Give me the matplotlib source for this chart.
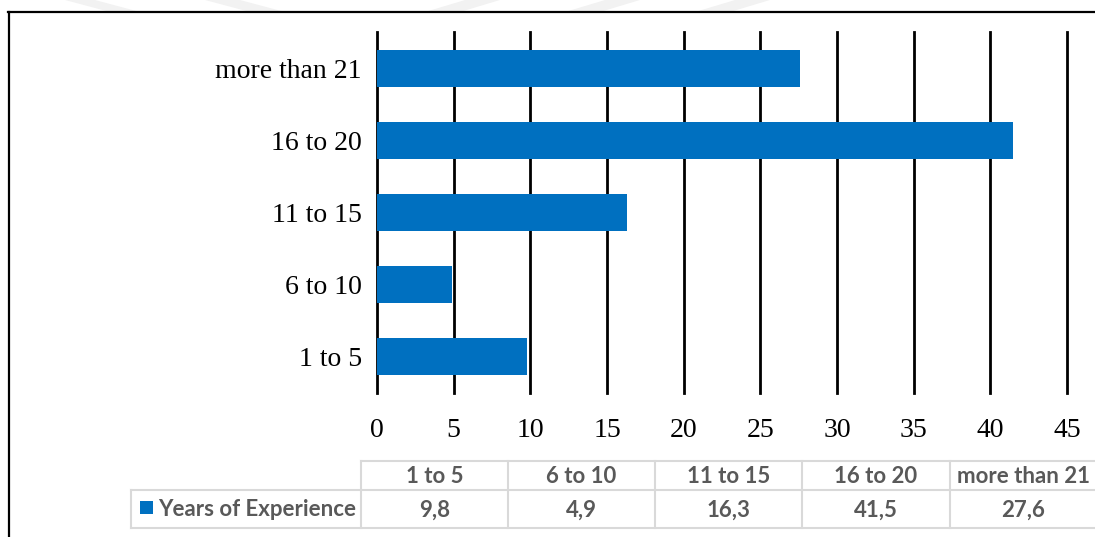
import matplotlib
matplotlib.use("Agg")
import matplotlib.pyplot as plt
from matplotlib.patches import Polygon, Rectangle
from matplotlib.lines import Line2D

categories = ["1 to 5", "6 to 10", "11 to 15", "16 to 20", "more than 21"]
values = [9.8, 4.9, 16.3, 41.5, 27.6]
value_labels = ["9,8", "4,9", "16,3", "41,5", "27,6"]
series_name = "Years of Experience"
xticks = [0, 5, 10, 15, 20, 25, 30, 35, 40, 45]

W, H = 1095, 537
fig = plt.figure(figsize=(W / 100, H / 100), dpi=100)

def fx(px):
    return px / W

def fy(py):
    return 1 - py / H

BLUE = "#0070C0"
GRAY_TXT = "#595959"
GRID_LINE = "#D9D9D9"

# faint watermark shapes at the top
wm = [
    [(65, 0), (95, 0), (140, 12), (110, 12)],
    [(205, 0), (240, 0), (285, 12), (250, 12)],
    [(465, 0), (500, 0), (460, 12), (425, 12)],
    [(605, 0), (640, 0), (600, 12), (565, 12)],
    [(735, 0), (770, 0), (730, 12), (695, 12)],
]
for poly in wm:
    fig.patches.append(Polygon([(fx(x), fy(y)) for x, y in poly], closed=True,
                               transform=fig.transFigure, facecolor="#F2F2F2",
                               edgecolor="none", zorder=0))

# outer frame lines
fig.lines.append(Line2D([fx(8), fx(1095)], [fy(12), fy(12)], transform=fig.transFigure,
                        color="black", lw=1.6))
fig.lines.append(Line2D([fx(9), fx(9)], [fy(12), fy(537)], transform=fig.transFigure,
                        color="black", lw=1.6))

# main axes
ax = fig.add_axes([fx(377), fy(393), fx(1067) - fx(377), fy(32) - fy(393)])
y = list(range(len(categories)))
ax.barh(y, values, height=0.51, color=BLUE, zorder=3)
ax.set_xlim(0, 45)
ax.set_ylim(-0.5, len(categories) - 0.5)
ax.set_xticks(xticks)
ax.set_xticklabels([str(t) for t in xticks])
ax.set_yticks(y)
ax.set_yticklabels(categories)
for s in ax.spines.values():
    s.set_visible(False)
ax.tick_params(axis="both", length=0, labelsize=20)
ax.tick_params(axis="x", pad=18)
ax.tick_params(axis="y", pad=11)
for lbl in ax.get_xticklabels() + ax.get_yticklabels():
    lbl.set_fontfamily("Liberation Serif")
ax.xaxis.grid(True, color="black", lw=2, zorder=1)
for gl in ax.get_xgridlines():
    gl.set_clip_on(False)
ax.set_axisbelow(True)
ax.patch.set_alpha(0)

# data table
col_edges = [361, 508, 655, 802, 950, 1097]
label_left = 131
row_top, row_mid, row_bot = 461, 490, 528
lw_t = 1.5

def hline(x0, x1, yy):
    fig.lines.append(Line2D([fx(x0), fx(x1)], [fy(yy), fy(yy)], transform=fig.transFigure,
                            color=GRID_LINE, lw=lw_t))

def vline(xx, y0, y1):
    fig.lines.append(Line2D([fx(xx), fx(xx)], [fy(y0), fy(y1)], transform=fig.transFigure,
                            color=GRID_LINE, lw=lw_t))

hline(col_edges[0], col_edges[-1], row_top)
hline(label_left, col_edges[-1], row_mid)
hline(label_left, col_edges[-1], row_bot)
vline(label_left, row_mid, row_bot)
for xe in col_edges[:-1]:
    vline(xe, row_top, row_bot)

tfont = dict(family="Lato", weight="bold", color=GRAY_TXT, fontsize=16)
for i, cat in enumerate(categories):
    cx = (col_edges[i] + col_edges[i + 1]) / 2
    fig.text(fx(cx), fy((row_top + row_mid) / 2 + 1), cat, ha="center", va="center", **tfont)
    fig.text(fx(cx), fy((row_mid + row_bot) / 2 + 1), value_labels[i], ha="center", va="center", **tfont)

fig.patches.append(Rectangle((fx(140), fy(514)), fx(153) - fx(140), fy(501) - fy(514),
                             transform=fig.transFigure, facecolor=BLUE, edgecolor="none"))
fig.text(fx(158), fy((row_mid + row_bot) / 2 + 1), series_name, ha="left", va="center", **tfont)

fig.savefig("out.png", dpi=100)
